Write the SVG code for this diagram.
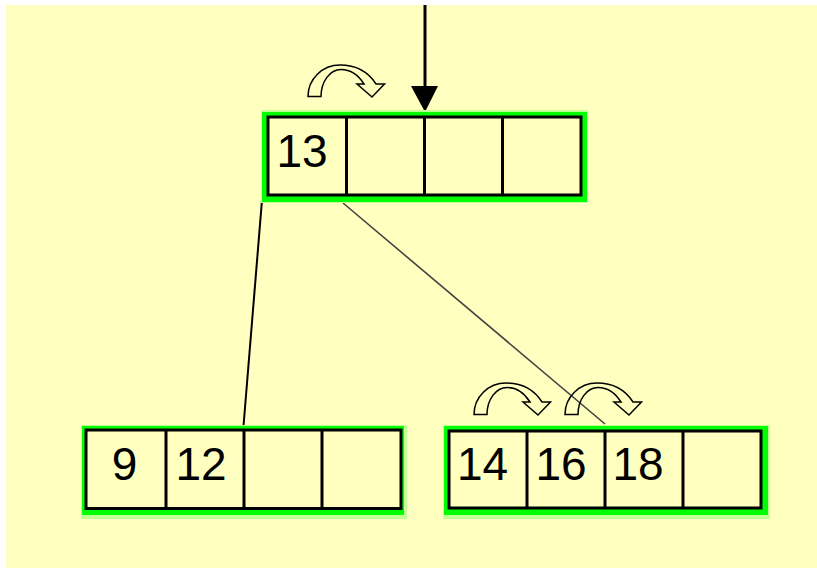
<svg xmlns="http://www.w3.org/2000/svg" width="817" height="568" viewBox="0 0 817 568">
<style>
.halo{fill:#c4ff94}
.green{fill:#00ff00}
.box{fill:#ffffc0;stroke:#000;stroke-width:3}
.div{stroke:#000;stroke-width:3}
.num{font-family:"Liberation Sans",Arial,sans-serif;font-size:46px;fill:#000;text-anchor:middle}
.curl{fill:none;stroke:#000;stroke-width:1.5;stroke-linejoin:miter}
</style>
<defs>
<path id="curl" class="curl" d="M0,31.5 C0,14 14.3,0 32,0 C49,0 61,8 68,19 L76.5,19 L64,32 L49,19 L56,19 C50,9.5 42,4.5 33,4.5 C22,4.5 13,16.4 13,31.5 Z"/>
</defs>
<rect x="6" y="5" width="811" height="563" fill="#ffffc0"/>
<g id="connectors">
<line x1="262" y1="200" x2="243.5" y2="426" stroke="#000" stroke-width="2"/>
<line x1="343" y1="203" x2="605" y2="424" stroke="#444" stroke-width="1.6"/>
<line x1="425" y1="5" x2="425" y2="88" stroke="#000" stroke-width="3"/>
<polygon points="411,86 438,86 425,112" fill="#000"/>
</g>
<g id="node-root">
<rect class="halo" x="261" y="110" width="327" height="93"/>
<rect class="green" x="262" y="112" width="325" height="90"/>
<rect class="box" x="268" y="117" width="313" height="78"/>
<line class="div" x1="346.5" y1="117" x2="346.5" y2="195"/>
<line class="div" x1="424.5" y1="117" x2="424.5" y2="195"/>
<line class="div" x1="502.5" y1="117" x2="502.5" y2="195"/>
<text class="num" x="302" y="166.5">13</text>
</g>
<g id="node-left">
<rect class="halo" x="81" y="425" width="326" height="94"/>
<rect class="green" x="82" y="426" width="322" height="89"/>
<rect class="box" x="86" y="430" width="315" height="78.5"/>
<line class="div" x1="166" y1="430" x2="166" y2="508.5"/>
<line class="div" x1="244" y1="430" x2="244" y2="508.5"/>
<line class="div" x1="322" y1="430" x2="322" y2="508.5"/>
<text class="num" x="124.5" y="479.5">9</text>
<text class="num" x="201" y="479.5">12</text>
</g>
<g id="node-right">
<rect class="halo" x="443" y="425" width="327" height="94"/>
<rect class="green" x="444" y="426" width="324" height="89"/>
<rect class="box" x="449" y="431" width="312" height="77"/>
<line class="div" x1="527" y1="431" x2="527" y2="508"/>
<line class="div" x1="605" y1="431" x2="605" y2="508"/>
<line class="div" x1="683" y1="431" x2="683" y2="508"/>
<text class="num" x="482.5" y="480">14</text>
<text class="num" x="561" y="480">16</text>
<text class="num" x="638" y="480">18</text>
</g>
<g id="curl-arrows">
<use href="#curl" x="308" y="65"/>
<use href="#curl" x="474" y="383"/>
<use href="#curl" x="565" y="383"/>
</g>
</svg>
